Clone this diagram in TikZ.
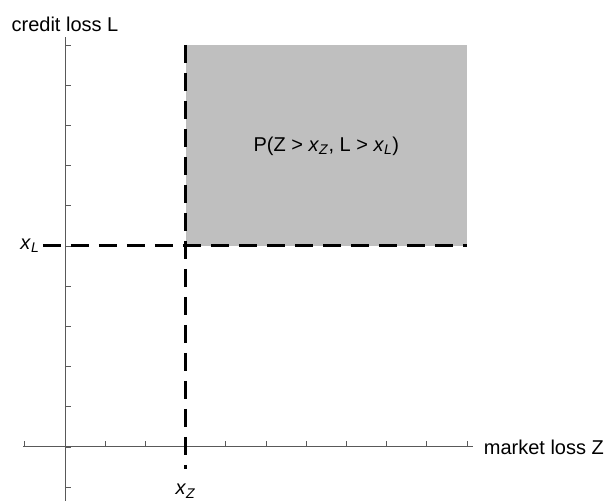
\documentclass[tikz,border=0pt]{standalone}
\usepackage{fontspec}
\setmainfont{Liberation Sans}
\usetikzlibrary{positioning}
\definecolor{regiongray}{gray}{0.75}
\definecolor{axisgray}{gray}{0.35}

\begin{document}
\begin{tikzpicture}[x=40.2pt, y=40.2pt, font=\fontsize{20}{24}\selectfont,
    axis/.style={axisgray, line width=1pt},
    tickmark/.style={axisgray, line width=0.8pt},
    threshold/.style={black, line width=3pt, dash pattern=on 18pt off 10pt}]
    \useasboundingbox (-1.617,-1.343) rectangle (13.657,11.119);

    % Joint tail region
    \fill[regiongray] (3,5) rectangle (10,10);
    \node (prob) at (6.5,7.48) {P(Z > \textit{x}\textsubscript{\textit{Z}}, L > \textit{x}\textsubscript{\textit{L}})};

    % Axes
    \draw[axis] (-1.04,0) -- (10.15,0) node[right=7pt, black] (zlabel) {market loss Z};
    \draw[axis] (0,-1.343) -- (0,10.2) node[above=1pt, black] (llabel) {credit loss L};

    % Tick marks
    \foreach \k in {-1,...,10} {
        \draw[tickmark] (\k,0) -- (\k,0.16);
        \draw[tickmark] (0,\k) -- (0.16,\k);
    }

    % Threshold lines
    \draw[threshold] (3,10) -- (3,-0.55);
    \draw[threshold] (-0.55,5) -- (10,5);
    \node (xz) at (3,-1.1) {\textit{x}\textsubscript{\textit{Z}}};
    \node[left=0pt] (xl) at (-0.55,5) {\textit{x}\textsubscript{\textit{L}}};
\end{tikzpicture}
\end{document}
